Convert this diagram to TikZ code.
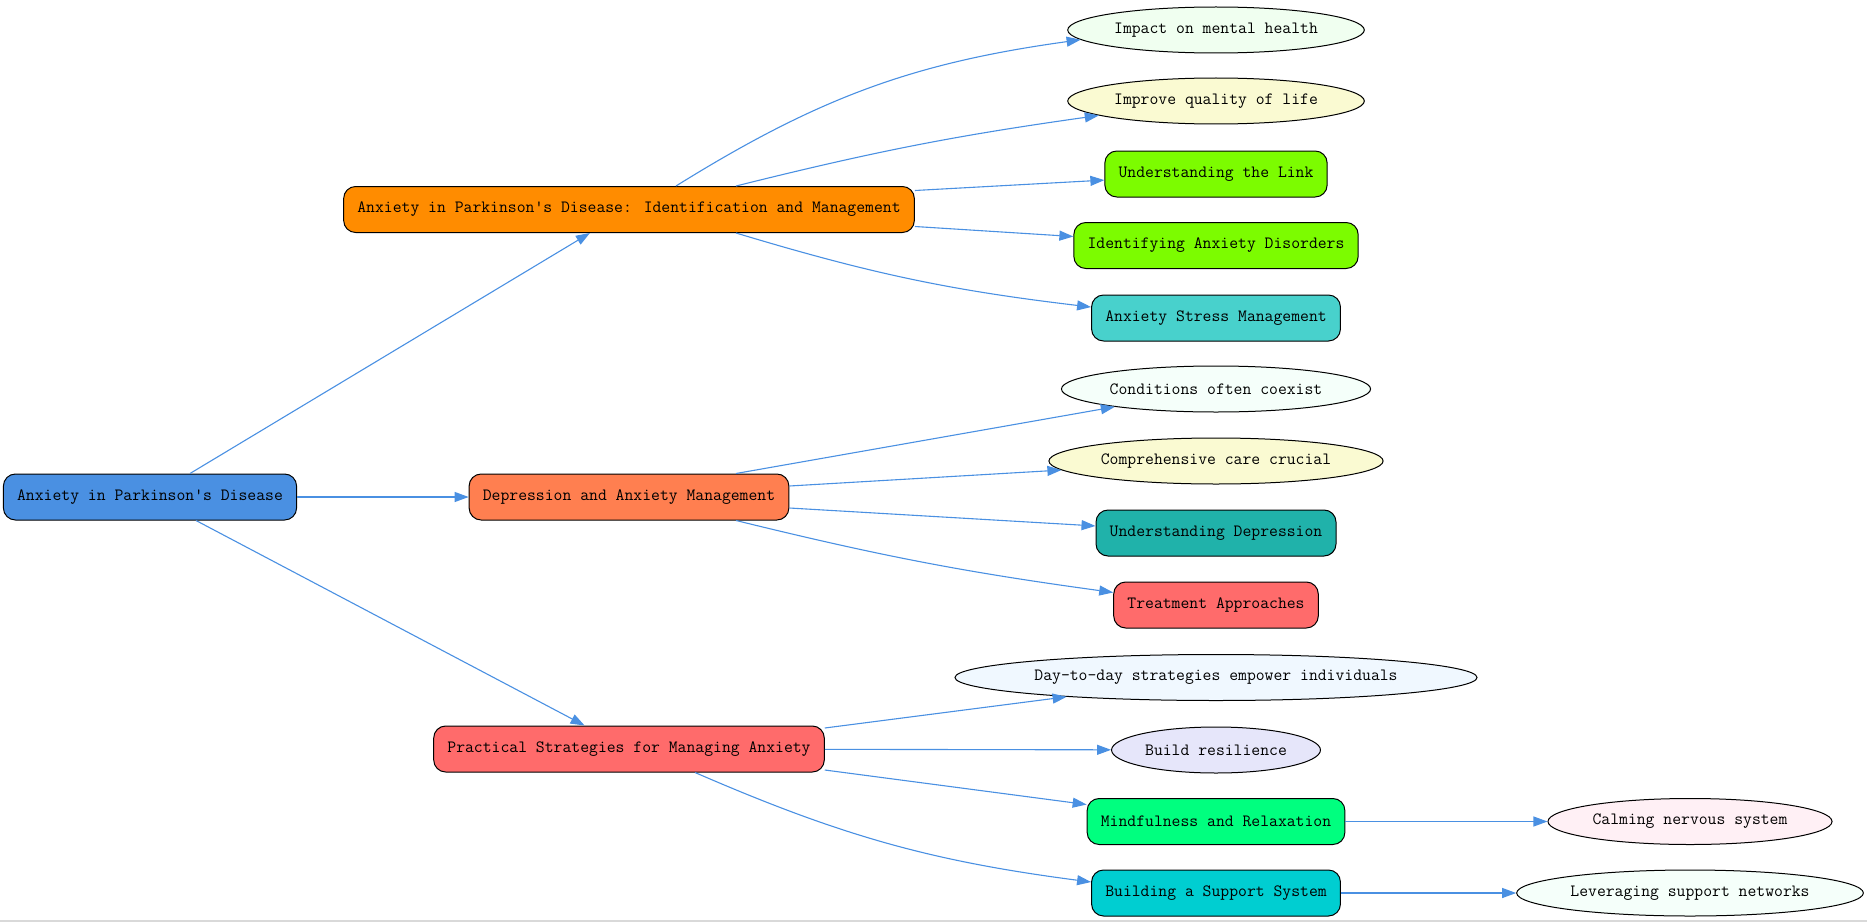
\documentclass[tikz,border=0pt]{standalone}
\usetikzlibrary{arrows.meta,shapes.geometric}
\definecolor{linkblue}{HTML}{4A90E2}
\definecolor{rootblue}{HTML}{4A90E2}
\definecolor{darkorange}{HTML}{FF8C00}
\definecolor{coral}{HTML}{FF7F50}
\definecolor{salmonred}{HTML}{FF6B6B}
\definecolor{lawngreen}{HTML}{7CFC00}
\definecolor{medturq}{HTML}{48D1CC}
\definecolor{seagreen}{HTML}{20B2AA}
\definecolor{springgreen}{HTML}{00FF7F}
\definecolor{darkturq}{HTML}{00CED1}
\definecolor{honeydew}{HTML}{F0FFF0}
\definecolor{paleyellow}{HTML}{FAFAD2}
\definecolor{mintcream}{HTML}{F5FFFA}
\definecolor{aliceblue}{HTML}{F0F8FF}
\definecolor{lavender}{HTML}{E6E6FA}
\definecolor{lavblush}{HTML}{FFF0F5}
\begin{document}
\begin{tikzpicture}[x=1pt, y=-1pt,
  font=\ttfamily\fontsize{17.2}{20}\selectfont,
  box/.style={draw, rounded corners=12pt, minimum height=46pt, inner xsep=13.7pt, line width=1pt},
  oval/.style={draw, ellipse, minimum height=46pt, inner xsep=3pt, inner ysep=2pt, line width=1pt},
  link/.style={draw=linkblue, line width=1.1pt, -{Triangle[length=14pt,width=10pt]}}]
  \useasboundingbox (0,0) rectangle (1867,923);
  \draw[black!15, line width=1.2pt] (0,921) -- (1867,921);
  % main branches
  \node[box, fill=rootblue] (root) at (150,497) {Anxiety in Parkinson's Disease};
  \node[box, fill=darkorange] (ident) at (629,209.5) {Anxiety in Parkinson's Disease: Identification and Management};
  \node[box, fill=coral] (dep) at (629,497) {Depression and Anxiety Management};
  \node[box, fill=salmonred] (prac) at (629,749) {Practical Strategies for Managing Anxiety};
  % leaves
  \node[oval, fill=honeydew] (impact) at (1216,30) {Impact on mental health};
  \node[oval, fill=paleyellow] (quality) at (1216,101) {Improve quality of life};
  \node[box, fill=lawngreen] (link) at (1216,174) {Understanding the Link};
  \node[box, fill=lawngreen] (disorders) at (1216,245.5) {Identifying Anxiety Disorders};
  \node[box, fill=medturq] (stress) at (1216,318) {Anxiety Stress Management};
  \node[oval, fill=mintcream] (coexist) at (1216,389) {Conditions often coexist};
  \node[oval, fill=paleyellow] (care) at (1216,461) {Comprehensive care crucial};
  \node[box, fill=seagreen] (depress) at (1216,533) {Understanding Depression};
  \node[box, fill=salmonred] (treat) at (1216,605) {Treatment Approaches};
  \node[oval, fill=aliceblue] (daily) at (1216,677.5) {Day-to-day strategies empower individuals};
  \node[oval, fill=lavender] (resil) at (1216,750) {Build resilience};
  \node[box, fill=springgreen] (mindful) at (1216,821.5) {Mindfulness and Relaxation};
  \node[box, fill=darkturq] (support) at (1216,893) {Building a Support System};
  \node[oval, fill=lavblush] (calm) at (1690,821.5) {Calming nervous system};
  \node[oval, fill=mintcream] (network) at (1690,893) {Leveraging support networks};
  % connectors
  \draw[link] ([xshift=40pt]root.north) -- (ident);
  \draw[link] (root) -- (dep);
  \draw[link] ([xshift=46pt]root.south) -- (prac);
  \draw[link] ([xshift=47pt]ident.north) to[bend left=12] (impact);
  \draw[link] ([xshift=107pt]ident.north) to[bend left=3] (quality);
  \draw[link] ([yshift=19pt]ident.east) -- (link);
  \draw[link] ([yshift=-17pt]ident.east) -- (disorders);
  \draw[link] ([xshift=107pt]ident.south) to[bend right=5] (stress);
  \draw[link] ([xshift=107pt]dep.north) -- (coexist);
  \draw[link] ([yshift=11pt]dep.east) -- (care);
  \draw[link] ([yshift=-11pt]dep.east) -- (depress);
  \draw[link] ([xshift=107pt]dep.south) to[bend right=3] (treat);
  \draw[link] ([yshift=21pt]prac.east) -- (daily);
  \draw[link] (prac) -- (resil);
  \draw[link] ([yshift=-21pt]prac.east) -- (mindful);
  \draw[link] ([xshift=66pt]prac.south) to[bend right=8] (support);
  \draw[link] (mindful) -- (calm);
  \draw[link] (support) -- (network);
\end{tikzpicture}
\end{document}
